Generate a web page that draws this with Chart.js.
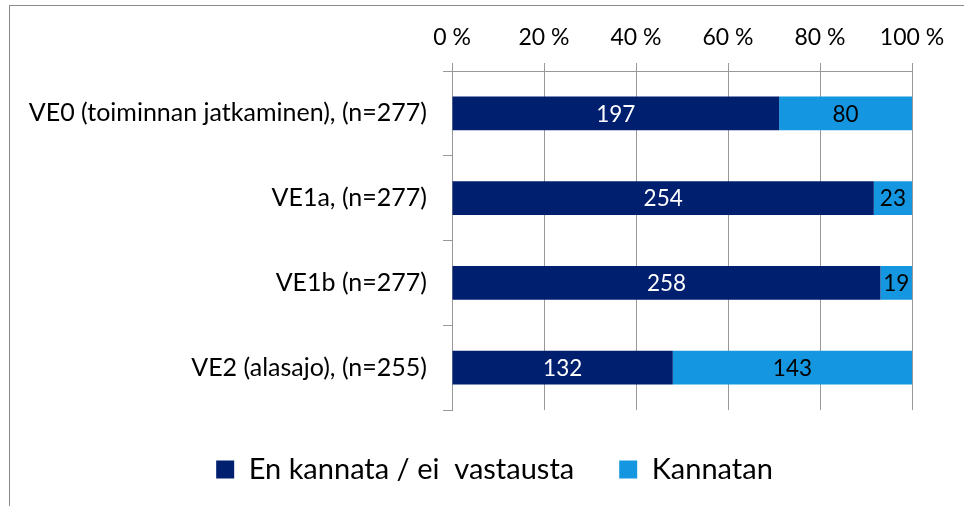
<!DOCTYPE html>
<html lang="fi">
<head>
<meta charset="utf-8">
<title>Vaihtoehtojen kannatus</title>
<script src="https://cdn.jsdelivr.net/npm/chart.js@4.4.1/dist/chart.umd.min.js"></script>
<style>
  html, body { margin: 0; padding: 0; background: #fff; overflow: hidden; }
  #frame {
    position: absolute; left: 9px; top: 5px; width: 1200px; height: 800px;
    border-left: 1px solid #8a8a8a; border-top: 1px solid #8a8a8a;
    pointer-events: none;
  }
  #c { position: absolute; left: 0; top: 0; }
</style>
</head>
<body>
<canvas id="c" width="964" height="506"></canvas>
<div id="frame"></div>
<script>
// Vastausvaihtoehdot ja vastaajamäärät
const categories = [
  'VE0 (toiminnan jatkaminen), (n=277)',
  'VE1a, (n=277)',
  'VE1b (n=277)',
  'VE2 (alasajo), (n=255)'
];
const seriesNames = ['En kannata / ei  vastausta', 'Kannatan'];
const enKannata = [197, 254, 258, 132];
const kannatan = [80, 23, 19, 143];
const xTickLabels = ['0 %', '20 %', '40 %', '60 %', '80 %', '100 %'];

const DARK = '#001f6e';
const LIGHT = '#1596e0';
const GRID = '#999999';
const FONT = 'Lato, Carlito, "Noto Sans", sans-serif';

// 100 % pinottu pylväs: osuus rivin summasta
const totals = categories.map((_, i) => enKannata[i] + kannatan[i]);
const share = (arr) => arr.map((v, i) => v / totals[i] * 100);

// Lukumäärät pylväiden keskelle
const countLabels = {
  id: 'countLabels',
  afterDatasetsDraw(chart) {
    const ctx = chart.ctx;
    ctx.save();
    ctx.font = '22.5px ' + FONT;
    ctx.textAlign = 'center';
    ctx.textBaseline = 'middle';
    chart.data.datasets.forEach((ds, di) => {
      const meta = chart.getDatasetMeta(di);
      meta.data.forEach((el, i) => {
        const p = el.getCenterPoint();
        ctx.fillStyle = ds.labelColor;
        ctx.fillText(String(ds.counts[i]), p.x, p.y + 1);
      });
    });
    ctx.restore();
  }
};

// Selite keskitetään alueelle, joka alkaa kohdasta LEGEND_LEFT
const LEGEND_LEFT = 77;
const legendOffset = {
  id: 'legendOffset',
  beforeDraw(chart) {
    const lg = chart.legend || chart.boxes.find(b => b.legendItems);
    if (lg) lg.left = LEGEND_LEFT;
  }
};

const PLOT_LEFT = 452;

new Chart(document.getElementById('c'), {
  type: 'bar',
  data: {
    labels: categories,
    datasets: [
      { label: seriesNames[0], data: share(enKannata), counts: enKannata,
        backgroundColor: DARK, labelColor: '#ffffff' },
      { label: seriesNames[1], data: share(kannatan), counts: kannatan,
        backgroundColor: LIGHT, labelColor: '#000000' }
    ]
  },
  options: {
    indexAxis: 'y',
    responsive: false,
    animation: false,
    devicePixelRatio: 1,
    layout: { padding: { left: 0, right: 52, top: 0, bottom: 12 } },
    datasets: { bar: { categoryPercentage: 1, barPercentage: 0.4 } },
    scales: {
      x: {
        position: 'top',
        stacked: true,
        min: 0, max: 100,
        ticks: {
          stepSize: 20,
          color: '#000',
          font: { family: FONT, size: 23 },
          padding: 12,
          callback: (v, i) => xTickLabels[i]
        },
        grid: { color: GRID, lineWidth: 1, tickLength: 8, drawTicks: true },
        border: { color: GRID, width: 1 },
        afterFit(scale) { scale.height = 71; }
      },
      y: {
        stacked: true,
        ticks: {
          color: '#000',
          font: { family: FONT, size: 25 },
          padding: 16
        },
        grid: { color: GRID, lineWidth: 1, tickLength: 9, drawOnChartArea: false, offset: true },
        border: { color: GRID, width: 1 },
        afterFit(scale) { scale.width = PLOT_LEFT; }
      }
    },
    plugins: {
      legend: {
        position: 'bottom',
        labels: {
          color: '#000',
          font: { family: FONT, size: 29 },
          boxWidth: 18,
          boxHeight: 18,
          padding: 45
        }
      },
      tooltip: { enabled: false }
    }
  },
  plugins: [countLabels, legendOffset]
});
</script>
</body>
</html>
